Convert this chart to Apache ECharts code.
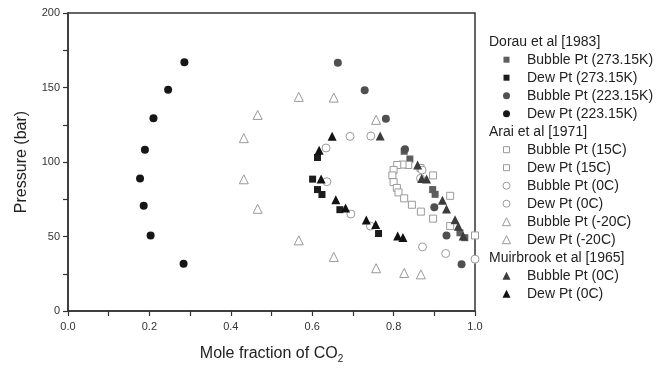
<!DOCTYPE html>
<html>
<head>
<meta charset="utf-8">
<script src="https://cdn.jsdelivr.net/npm/echarts@6/dist/echarts.min.js"></script>
<style>
  html, body { margin: 0; padding: 0; background: #fff; }
  #chart { width: 672px; height: 369px; }
</style>
</head>
<body>
<div id="chart"></div>
<script>
// Vapour-liquid equilibrium points, [mole fraction CO2, pressure in bar]
const dorauBubble273 = [[0.826,107.2],[0.840,102.0],[0.896,81.5],[0.902,78.3],[0.963,52.5],[0.975,49.2]];
const dorauDew273    = [[0.613,103.0],[0.601,88.5],[0.613,81.5],[0.624,78.2],[0.668,68.0],[0.763,52.0]];
const dorauBubble223 = [[0.663,166.6],[0.729,148.2],[0.781,129.0],[0.828,108.6],[0.900,69.7],[0.930,50.7],[0.967,31.4]];
const dorauDew223    = [[0.286,167.0],[0.246,148.5],[0.210,129.4],[0.189,108.3],[0.177,89.0],[0.186,70.6],[0.203,50.7],[0.284,31.7]];
const araiBubble15   = [[1.0,50.7],[0.939,77.3],[0.897,91.0],[0.866,96.0],[0.836,98.0],[0.822,98.3]];
const araiDew15      = [[0.809,98.0],[0.800,94.6],[0.797,91.0],[0.800,86.5],[0.808,82.6],[0.812,79.6],[0.826,75.6],[0.845,71.3],[0.867,66.7],[0.897,62.0],[0.939,57.0]];
const araiBubble0    = [[1.0,34.8],[0.928,38.6],[0.871,43.0],[0.866,89.0],[0.870,94.6],[0.744,117.4]];
const araiDew0       = [[0.693,117.2],[0.634,109.4],[0.636,86.8],[0.695,65.1],[0.743,57.0]];
const araiBubbleM20  = [[0.432,88.4],[0.466,68.6],[0.567,47.4],[0.653,36.3],[0.757,28.7],[0.826,25.5],[0.867,24.6]];
const araiDewM20     = [[0.432,116.0],[0.466,131.6],[0.567,143.7],[0.653,143.2],[0.757,128.3]];
const muirBubble0    = [[0.767,117.4],[0.859,98.0],[0.869,89.0],[0.881,88.6],[0.920,74.4],[0.930,68.4],[0.951,61.3],[0.959,56.9],[0.971,50.3]];
const muirDew0       = [[0.649,117.2],[0.617,107.9],[0.622,88.6],[0.658,74.6],[0.682,69.1],[0.733,61.0],[0.756,58.0],[0.810,50.3],[0.823,49.4]];

const xTicks = [0, 0.2, 0.4, 0.6, 0.8, 1.0];
const yTicks = [0, 50, 100, 150, 200];

const FONT = 'Liberation Sans, Arial, sans-serif';
const AXIS = '#333';
const OPEN = '#9a9a9a';

// marker styles: [symbol, size, fill, stroke]
const styles = {
  bub273: ['rect', 7, '#5e5e5e', null],
  dew273: ['rect', 7, '#1c1c1c', null],
  bub223: ['circle', 8, '#505050', null],
  dew223: ['circle', 8, '#161616', null],
  aBub15: ['rect', 7, '#fff', OPEN],
  aDew15: ['rect', 7, '#fff', OPEN],
  aBub0:  ['circle', 8, '#fff', OPEN],
  aDew0:  ['circle', 8, '#fff', OPEN],
  aBubM:  ['triangle', 9, '#fff', OPEN],
  aDewM:  ['triangle', 9, '#fff', OPEN],
  mBub0:  ['triangle', 9, '#3c3c3c', null],
  mDew0:  ['triangle', 9, '#111', null]
};

const seriesDefs = [
  ['Bubble Pt (273.15K)', dorauBubble273, 'bub273'],
  ['Dew Pt (273.15K)', dorauDew273, 'dew273'],
  ['Bubble Pt (223.15K)', dorauBubble223, 'bub223'],
  ['Dew Pt (223.15K)', dorauDew223, 'dew223'],
  ['Bubble Pt (15C)', araiBubble15, 'aBub15'],
  ['Dew Pt (15C)', araiDew15, 'aDew15'],
  ['Bubble Pt (0C)', araiBubble0, 'aBub0'],
  ['Dew Pt (0C)', araiDew0, 'aDew0'],
  ['Bubble Pt (-20C)', araiBubbleM20, 'aBubM'],
  ['Dew Pt (-20C)', araiDewM20, 'aDewM'],
  ['Bubble Pt (0C) ', muirBubble0, 'mBub0'],
  ['Dew Pt (0C) ', muirDew0, 'mDew0']
];

const legendRows = [
  ['Dorau et al [1983]', null],
  ['Bubble Pt (273.15K)', 'bub273'],
  ['Dew Pt (273.15K)', 'dew273'],
  ['Bubble Pt (223.15K)', 'bub223'],
  ['Dew Pt (223.15K)', 'dew223'],
  ['Arai et al [1971]', null],
  ['Bubble Pt (15C)', 'aBub15'],
  ['Dew Pt (15C)', 'aDew15'],
  ['Bubble Pt (0C)', 'aBub0'],
  ['Dew Pt (0C)', 'aDew0'],
  ['Bubble Pt (-20C)', 'aBubM'],
  ['Dew Pt (-20C)', 'aDewM'],
  ['Muirbrook et al [1965]', null],
  ['Bubble Pt (0C)', 'mBub0'],
  ['Dew Pt (0C)', 'mDew0']
];

function makeSeries(def) {
  const st = styles[def[2]];
  return {
    name: def[0],
    type: 'scatter',
    data: def[1],
    symbol: st[0],
    symbolSize: st[1],
    clip: true,
    itemStyle: {
      color: st[2],
      borderColor: st[3] || st[2],
      borderWidth: st[3] ? 1 : 0,
      opacity: 1
    },
    emphasis: { disabled: true },
    animation: false
  };
}

// legend drawn as a grouped list
function legendGraphics() {
  const items = [];
  const top = 41.7, step = 18.0;
  const textStyle = (t) => ({ text: t, font: '14px ' + FONT, fill: '#222', verticalAlign: 'middle', align: 'left' });
  legendRows.forEach((row, i) => {
    const y = top + i * step;
    if (!row[1]) {
      items.push({ type: 'text', x: 489, y: y, style: textStyle(row[0]) });
      return;
    }
    const st = styles[row[1]];
    const cx = 506.5, s = st[1] - 1;
    const fill = st[2], stroke = st[3] || st[2];
    const lw = st[3] ? 1 : 0;
    if (st[0] === 'rect') {
      items.push({ type: 'rect', shape: { x: cx - s / 2, y: y - s / 2, width: s, height: s },
        style: { fill, stroke, lineWidth: lw } });
    } else if (st[0] === 'circle') {
      items.push({ type: 'circle', shape: { cx, cy: y, r: s / 2 },
        style: { fill, stroke, lineWidth: lw } });
    } else {
      const h = s;
      items.push({ type: 'polygon', shape: { points: [[cx, y - h / 2], [cx + h / 2, y + h / 2], [cx - h / 2, y + h / 2]] },
        style: { fill, stroke, lineWidth: lw } });
    }
    items.push({ type: 'text', x: 527, y: y, style: textStyle(row[0]) });
  });
  return items;
}

const chart = echarts.init(document.getElementById('chart'), null, { renderer: 'canvas' });
chart.setOption({
  animation: false,
  backgroundColor: '#fff',
  grid: {
    left: 68, right: 197, top: 13, bottom: 54,
    show: true, borderColor: AXIS, borderWidth: 1.5, backgroundColor: 'transparent'
  },
  xAxis: {
    type: 'value', min: xTicks[0], max: xTicks[xTicks.length - 1], interval: 0.2,
    name: '{a|Mole fraction of CO}{s|2}',
    nameLocation: 'middle', nameGap: 33,
    nameTextStyle: {
      rich: {
        a: { fontFamily: FONT, fontSize: 16, color: '#222' },
        s: { fontFamily: FONT, fontSize: 10, color: '#222', padding: [10, 0, 0, 0] }
      }
    },
    axisLine: { lineStyle: { color: AXIS, width: 1.5 } },
    axisTick: { show: true, inside: false, length: 5, lineStyle: { color: AXIS, width: 1.2 } },
    minorTick: { show: true, splitNumber: 2, length: 5, lineStyle: { color: AXIS, width: 1.2 } },
    splitLine: { show: false },
    axisLabel: { fontFamily: FONT, fontSize: 11, color: '#333', margin: 10,
      formatter: v => v.toFixed(1) }
  },
  yAxis: {
    type: 'value', min: yTicks[0], max: yTicks[yTicks.length - 1], interval: 50,
    name: 'Pressure (bar)',
    nameLocation: 'middle', nameGap: 38, nameRotate: 90,
    nameTextStyle: { fontFamily: FONT, fontSize: 16, color: '#222' },
    axisLine: { lineStyle: { color: AXIS, width: 1.5 } },
    axisTick: { show: true, inside: false, length: 5, lineStyle: { color: AXIS, width: 1.2 } },
    minorTick: { show: true, splitNumber: 2, length: 5, lineStyle: { color: AXIS, width: 1.2 } },
    splitLine: { show: false },
    axisLabel: { fontFamily: FONT, fontSize: 11, color: '#333', margin: 8 }
  },
  series: seriesDefs.map(makeSeries),
  graphic: legendGraphics()
});
</script>
</body>
</html>
